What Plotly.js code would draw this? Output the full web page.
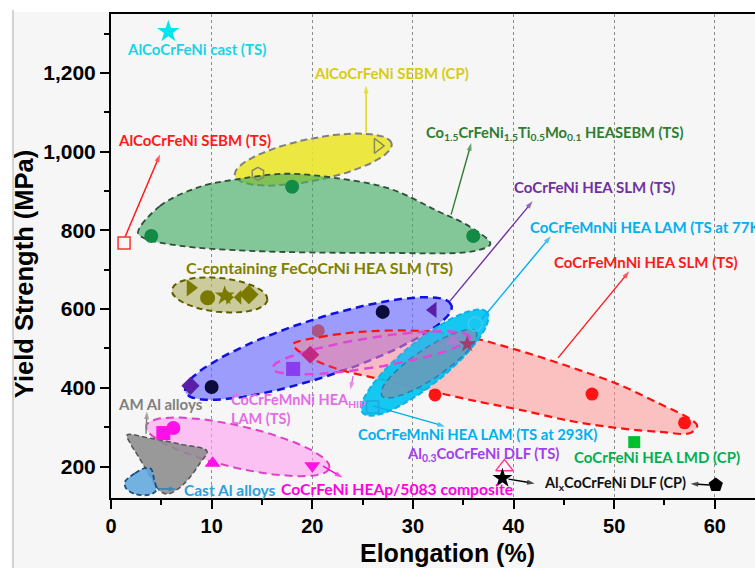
<!DOCTYPE html>
<html><head><meta charset="utf-8">
<script src="https://cdn.plot.ly/plotly-3.0.1.min.js"></script>
<style>html,body{margin:0;padding:0;background:#fff}</style>
</head><body><div id="chart" style="width:755px;height:568px"></div>
<script>
// ---------------- data (elongation %, yield strength MPa) ----------------
const castTS_x = [5.7],  castTS_y = [1305];                 // AlCoCrFeNi cast (TS)
const sebmTS_x = [1.3],  sebmTS_y = [768];                  // AlCoCrFeNi SEBM (TS)
const sebmCP_x = [14.6, 26.5], sebmCP_y = [944, 1015];      // AlCoCrFeNi SEBM (CP)
const heaSebm_x = [4.0, 18.0, 36.0], heaSebm_y = [786, 911, 786]; // Co1.5CrFeNi1.5Ti0.5Mo0.1
const cFe_x = [7.9, 9.6, 11.3, 12.2, 13.7], cFe_y = [654, 629, 634, 630, 637]; // C-containing FeCoCrNi
const slmNi_x = [7.9, 10.0, 27.0, 32.0], slmNi_y = [405, 402, 593, 598];       // CoCrFeNi HEA SLM
const slmMn_x = [20.6, 32.2, 47.8, 57.0, 35.4], slmMn_y = [545, 382, 384, 311, 511]; // CoCrFeMnNi HEA SLM
const hip_x = [18.1, 19.8, 34.0], hip_y = [448, 484, 519];  // CoCrFeMnNi HEA HIP / LAM
const lam77_x = [36.2], lam77_y = [562];                    // LAM TS at 77K
const lam293_x = [26.0], lam293_y = [351];                  // LAM TS at 293K
const comp_x = [5.2, 6.2, 10.1, 20.0], comp_y = [285, 298, 208, 202]; // CoCrFeNi HEAp/5083
const al03_x = [39.1], al03_y = [199];                      // Al0.3CoCrFeNi DLF (TS)
const alx_x = [38.9, 60.1], alx_y = [170, 153];             // AlxCoCrFeNi DLF (CP)
const lmd_x = [52.0], lmd_y = [262];                        // CoCrFeNi HEA LMD (CP)

// region outlines (data units)
const green_x = [2.68,4.87,8.85,12.8,17.3,22.1,27.7,32.4,35.7,37.7,36.2,26.7,13.8,6.86,3.4,2.68];
const green_y = [794,862,911,931,944,934,906,850,809,766,748,743,748,761,779,794];
const red_x = [18.09,20.78,24.75,30.22,34.99,40.66,45.63,50.30,54.57,57.55,58.25,57.55,54.57,50.30,45.63,40.66,36.68,31.71,26.74,22.47,19.78,18.39,18.09];
const red_y = [511,529,542,545,532,494,453,410,359,321,303,285,288,298,316,344,364,392,422,448,476,499,511];
const amAl_x = [1.59,3.88,6.86,9.54,8.85,7.85,6.66,5.57,4.87,3.88,2.68,1.89,1.59];
const amAl_y = [280,272,257,239,209,173,143,130,138,176,227,260,280];
const castAl_x = [1.39,2.39,3.38,3.98,4.27,4.47,3.68,2.39,1.49,1.39];
const castAl_y = [161,183,196,194,168,138,128,130,145,161];

// ---------------- helpers ----------------
const PX_X = 644/64, PX_Y = 483.7/1230;
function ellipse(cx, cy, a, b, deg){
  const th = deg*Math.PI/180, xs=[], ys=[];
  for(let i=0;i<=90;i++){
    const t=i/90*2*Math.PI;
    const dx=a*Math.cos(t)*Math.cos(th)-b*Math.sin(t)*Math.sin(th);
    const dy=a*Math.cos(t)*Math.sin(th)+b*Math.sin(t)*Math.cos(th);
    xs.push(cx+dx/PX_X); ys.push(cy+dy/PX_Y);
  }
  return {x:xs,y:ys};
}
function region(p, fill, lc, w, dash, spline){
  return {type:'scatter', mode:'lines', x:p.x, y:p.y, fill:'toself', fillcolor:fill,
    line:{color:lc, width:w, dash:dash, shape: spline?'spline':'linear', smoothing:1},
    hoverinfo:'skip', showlegend:false};
}
function marks(x, y, sym, color, size, lineColor, lw){
  return {type:'scatter', mode:'markers', x:x, y:y, cliponaxis:false,
    marker:{symbol:sym, color:color, size:size, line:{color:lineColor||color, width:lw||0}},
    hoverinfo:'skip', showlegend:false};
}
function arrow(ax, ay, x, y, c){
  return {type:'scatter', mode:'lines+markers', x:[ax,x], y:[ay,y], cliponaxis:false,
    line:{color:c, width:1.4},
    marker:{symbol:['circle','arrow'], size:[0,8], angleref:'previous', color:c, line:{width:0}},
    hoverinfo:'skip', showlegend:false};
}

const traces = [
  region(ellipse(20.1, 980, 80, 21, 11.5), 'rgba(236,230,40,0.88)', '#808080', 2, '7px,4px'),
  region({x:green_x,y:green_y}, 'rgba(60,170,95,0.62)', '#2f4f3a', 1.8, '6px,4px', true),
  region(ellipse(10.8, 636, 48, 17, -6), 'rgba(175,175,95,0.6)', '#5e5e00', 2, '6px,4px'),
  region(ellipse(20.6, 500, 140, 29, 18), 'rgba(100,100,255,0.62)', '#1010e0', 2.5, '8px,5px'),
  region({x:red_x,y:red_y}, 'rgba(255,140,140,0.5)', '#ff1010', 2.2, '8px,5px', true),
  region(ellipse(31.2, 464, 80, 22, 39), 'rgba(0,195,240,0.92)', '#10b0e8', 2, '6px,3px'),
  region(ellipse(31.6, 461, 57, 15, 34), 'rgba(125,145,175,0.72)', '#2a7fb0', 1.5, '6px,4px'),
  region(ellipse(25.85, 489, 100, 15, 9), 'rgba(230,120,230,0.12)', '#e046d8', 2.5, '9px,6px'),
  region(ellipse(12.6, 250, 94, 21, -13), 'rgba(255,160,240,0.62)', '#e040c8', 2, '8px,5px'),
  region({x:amAl_x,y:amAl_y}, 'rgba(140,140,140,0.88)', '#555555', 1.5, '5px,3px', true),
  region({x:castAl_x,y:castAl_y}, 'rgba(90,165,220,0.85)', '#1a4a80', 1.8, '5px,3px', true),

  arrow(1.39, 783, 4.87, 993, '#ff1a1a'),
  arrow(25.35, 1048, 25.35, 1168, '#e0d400'),
  arrow(33.8, 840, 35.8, 1022, '#2e7d32'),
  arrow(33.7, 621, 41.9, 874, '#7030a0'),
  arrow(36.7, 570, 43.7, 785, '#00b0f0'),
  arrow(44.43, 476, 51.5, 696, '#ff1a1a'),
  arrow(26.04, 354, 33.2, 302, '#00b0f0'),
  arrow(24.06, 430, 23.8, 395, '#e066e0'),
  arrow(3.48, 283, 3.57, 340, '#7f7f7f'),
  arrow(4.67, 143, 6.5, 143, '#2080c0'),
  arrow(21.07, 201, 23.0, 172, '#ff00e0'),
  arrow(39.5, 168, 42.1, 157, '#000000'),
  arrow(59.5, 153, 57.6, 156, '#000000'),

  marks(castTS_x, castTS_y, 'star', '#00e5ee', 17),
  marks(sebmTS_x, sebmTS_y, 'square-open', '#ff3030', 12, '#ff3030', 1.5),
  marks(sebmCP_x, sebmCP_y, ['hexagon-open','triangle-right-open'], '#8a8a60', 13, '#8a8a60', 1.5),
  marks(heaSebm_x, heaSebm_y, 'circle', '#138a45', 14),
  marks(cFe_x, cFe_y, ['triangle-right','circle','star','bowtie','diamond'], '#7a7a00', 15),
  marks(slmNi_x, slmNi_y, ['diamond','circle','circle','triangle-left'], ['#5a1fa8','#0b0b3c','#0b0b3c','#5a1fa8'], 14),
  marks(slmMn_x, slmMn_y, ['circle','circle','circle','circle','star'], ['rgba(180,60,90,0.75)','#ff1414','#ff1414','#ff1414','rgba(170,40,90,0.8)'], 13),
  marks(hip_x, hip_y, ['square','diamond','triangle-up'], ['#8a3cf0','#c02a80','rgba(175,125,210,0.9)'], 14),
  marks(lam77_x, lam77_y, 'circle-open', '#40c8f0', 14, '#40c8f0', 1.5),
  marks(lam293_x, lam293_y, 'square-open', '#20a8e0', 12, '#20a8e0', 1.5),
  marks(comp_x, comp_y, ['square','circle','triangle-up','triangle-down'], '#ff10e8', 14),
  marks(al03_x, al03_y, 'triangle-up-open', '#ff3a9a', 15, '#ff3a9a', 1.5),
  marks(alx_x, alx_y, ['star','pentagon'], '#000000', 15),
  marks(lmd_x, lmd_y, 'square', '#00c030', 12)
];

// ---------------- labels ----------------
const F = 'Lato, "Open Sans", sans-serif';
function lab(t, x, y, c, s, xa, ya){
  return {text:'<b>'+t+'</b>', x:x, y:y, xref:'x', yref:'y', xanchor:xa||'left', yanchor:ya||'middle',
    showarrow:false, align:'left', font:{family:F, size:s, color:c}};
}
const annotations = [
  lab('AlCoCrFeNi cast (TS)', 8.45, 1262, '#19d4e6', 15, 'center'),
  lab('AlCoCrFeNi SEBM (CP)', 27.9, 1200, '#d6cc10', 15, 'center'),
  lab('AlCoCrFeNi SEBM (TS)', 8.25, 1030, '#ff1a1a', 15, 'center'),
  lab('Co<sub>1.5</sub>CrFeNi<sub>1.5</sub>Ti<sub>0.5</sub>Mo<sub>0.1</sub> HEASEBM (TS)', 31.1, 1048, '#2e7d32', 14.7),
  lab('CoCrFeNi HEA SLM (TS)', 39.9, 911, '#7030a0', 15),
  lab('CoCrFeMnNi HEA LAM (TS at 77K)', 41.45, 809, '#00b0f0', 15),
  lab('C-containing FeCoCrNi HEA SLM (TS)', 7.25, 705, '#808000', 16),
  lab('CoCrFeMnNi HEA SLM (TS)', 43.85, 720, '#ff1a1a', 15),
  lab('CoCrFeMnNi HEA<sub>HIP</sub><br>LAM (TS)', 11.75, 398, '#e66be6', 14.5, 'left', 'top'),
  lab('AM Al alloys', 0.5, 359, '#7f7f7f', 15),
  lab('Cast Al alloys', 7.1, 140, '#2e9fd8', 15.5),
  lab('CoCrFeNi HEAp/5083 composite', 16.7, 143, '#ff00e0', 15.7),
  lab('CoCrFeMnNi HEA LAM (TS at 293K)', 24.35, 282, '#00b0f0', 14.8),
  lab('Al<sub>0.3</sub>CoCrFeNi DLF (TS)', 29.2, 231, '#a040f0', 14.8),
  lab('CoCrFeNi HEA LMD (CP)', 45.8, 224, '#00b050', 15),
  lab('Al<sub>x</sub>CoCrFeNi DLF (CP)', 42.85, 158, '#111111', 14.5),
  // axis titles
  {text:'<b>Elongation (%)</b>', xref:'paper', yref:'paper', x:(447-111)/644, y:(497.7-553)/483.7,
   xanchor:'center', yanchor:'middle', showarrow:false, font:{family:'Liberation Sans, Arial, sans-serif', size:25, color:'#000'}},
  {text:'<b>Yield Strength (MPa)</b>', xref:'paper', yref:'paper', x:(24-111)/644, y:(497.7-274)/483.7,
   xanchor:'center', yanchor:'middle', textangle:-90, showarrow:false, font:{family:'Liberation Sans, Arial, sans-serif', size:25.5, color:'#000'}}
];

const layout = {
  width:755, height:568,
  margin:{l:111, r:0, t:14, b:70.3},
  paper_bgcolor:'#f6f6f6', plot_bgcolor:'#f6f6f6',
  showlegend:false,
  font:{family:'Liberation Sans, Arial, sans-serif', color:'#000'},
  xaxis:{range:[0,64], dtick:10, tick0:0, ticks:'outside', ticklen:9, tickwidth:2, tickcolor:'#000',
    showline:true, linewidth:2, linecolor:'#000', mirror:true, zeroline:false,
    showgrid:true, gridcolor:'#8c8c8c', gridwidth:1, griddash:'3px,3px',
    tickfont:{size:20, weight:'bold'},
    minor:{dtick:5, ticklen:5, tickwidth:2, tickcolor:'#000', ticks:'outside', showgrid:false}},
  yaxis:{range:[120,1350], dtick:200, tick0:0, tickformat:',d', ticks:'outside', ticklen:9, tickwidth:2, tickcolor:'#000',
    showline:true, linewidth:2, linecolor:'#000', mirror:false, zeroline:false, showgrid:false,
    tickfont:{size:21, weight:'bold'},
    minor:{dtick:100, ticklen:5, tickwidth:2, tickcolor:'#000', ticks:'outside', showgrid:false}},
  shapes:[
    {type:'rect', xref:'paper', yref:'paper', x0:-0.2, x1:(13-111)/644, y0:-0.2, y1:1.05, fillcolor:'#ffffff', line:{width:0}, layer:'below'},
    {type:'rect', xref:'paper', yref:'paper', x0:-0.2, x1:1.05, y0:(497.7-12)/483.7, y1:1.05, fillcolor:'#ffffff', line:{width:0}, layer:'below'},
    {type:'line', xref:'paper', yref:'paper', x0:(13-111)/644, x1:(13-111)/644, y0:-0.2, y1:(497.7-10)/483.7, line:{color:'#aaaaaa', width:1}}
  ],
  annotations: annotations
};

Plotly.newPlot('chart', traces, layout, {staticPlot:true, displayModeBar:false});
</script></body></html>
